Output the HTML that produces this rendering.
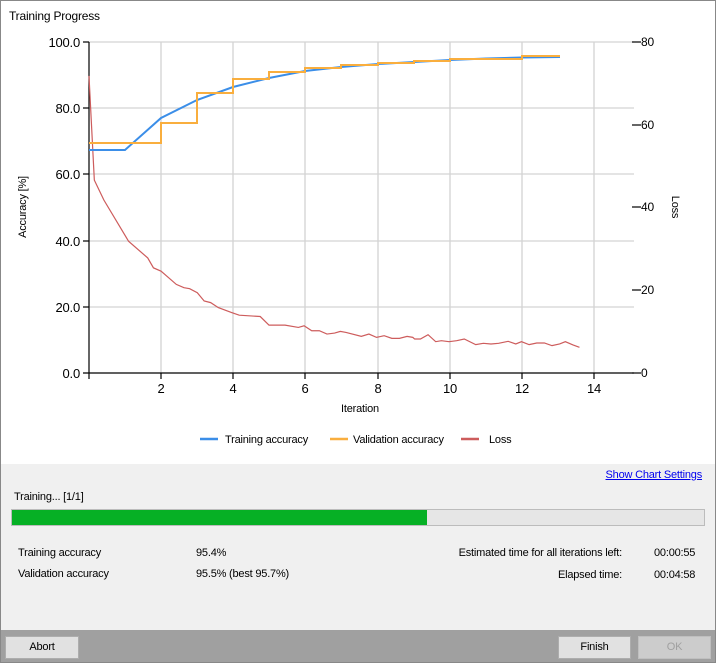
<!DOCTYPE html>
<html><head><style>
body{margin:0;width:716px;height:663px;overflow:hidden;font-family:"Liberation Sans",Arial,sans-serif;font-size:11px;letter-spacing:-0.2px;color:#000;background:#fff;position:relative}
.a{position:absolute;white-space:nowrap}
svg text{letter-spacing:-0.2px}
</style></head><body>
<div class="a" style="left:0;top:0;width:714px;height:661px;border:1px solid #888"></div>
<div class="a" style="left:9px;top:9px;font-size:12px">Training Progress</div>
<svg class="a" style="left:0;top:0" width="716" height="464">
<g stroke="#d3d3d3" stroke-width="1.3">
<line x1="89" y1="42" x2="634" y2="42"/><line x1="89" y1="108" x2="634" y2="108"/><line x1="89" y1="174" x2="634" y2="174"/><line x1="89" y1="241" x2="634" y2="241"/><line x1="89" y1="307" x2="634" y2="307"/>
<line x1="161" y1="42" x2="161" y2="373"/><line x1="233" y1="42" x2="233" y2="373"/><line x1="305" y1="42" x2="305" y2="373"/><line x1="378" y1="42" x2="378" y2="373"/><line x1="450" y1="42" x2="450" y2="373"/><line x1="522" y1="42" x2="522" y2="373"/><line x1="594" y1="42" x2="594" y2="373"/>
</g>
<g stroke="#000" stroke-width="1.2">
<line x1="89" y1="42" x2="89" y2="379"/><line x1="83" y1="373" x2="634" y2="373"/>
<line x1="83" y1="42" x2="89" y2="42"/><line x1="83" y1="108" x2="89" y2="108"/><line x1="83" y1="174" x2="89" y2="174"/><line x1="83" y1="241" x2="89" y2="241"/><line x1="83" y1="307" x2="89" y2="307"/>
<line x1="161" y1="373" x2="161" y2="379"/><line x1="233" y1="373" x2="233" y2="379"/><line x1="305" y1="373" x2="305" y2="379"/><line x1="378" y1="373" x2="378" y2="379"/><line x1="450" y1="373" x2="450" y2="379"/><line x1="522" y1="373" x2="522" y2="379"/><line x1="594" y1="373" x2="594" y2="379"/>
<line x1="632" y1="42" x2="641" y2="42"/><line x1="632" y1="125" x2="641" y2="125"/><line x1="632" y1="207" x2="641" y2="207"/><line x1="632" y1="290" x2="641" y2="290"/><line x1="632" y1="373" x2="641" y2="373"/>
</g>
<g font-family="Liberation Sans,Arial,sans-serif" font-size="13" text-anchor="end">
<text x="80" y="47">100.0</text><text x="80" y="113">80.0</text><text x="80" y="179">60.0</text><text x="80" y="246">40.0</text><text x="80" y="312">20.0</text><text x="80" y="378">0.0</text>
</g>
<g font-family="Liberation Sans,Arial,sans-serif" font-size="13" text-anchor="middle">
<text x="161" y="393">2</text><text x="233" y="393">4</text><text x="305" y="393">6</text><text x="378" y="393">8</text><text x="450" y="393">10</text><text x="522" y="393">12</text><text x="594" y="393">14</text>
</g>
<g font-family="Liberation Sans,Arial,sans-serif" font-size="12">
<text x="641" y="46">80</text><text x="641" y="129">60</text><text x="641" y="211">40</text><text x="641" y="294">20</text><text x="641" y="377">0</text>
</g>
<g font-family="Liberation Sans,Arial,sans-serif" font-size="11">
<text x="360" y="412" text-anchor="middle">Iteration</text>
<text transform="translate(26,207) rotate(-90)" text-anchor="middle">Accuracy [%]</text>
<text transform="translate(672,207) rotate(90)" text-anchor="middle">Loss</text>
</g>
<g transform="translate(60,200) scale(0.3814,0.331)">
<polyline fill="none" stroke="#cd5c5c" stroke-width="1.2" vector-effect="non-scaling-stroke" points="76,-375 90,-60 115,0 180,125 230,175 245,205 265,215 305,255 325,265 340,268 360,280 378,305 395,310 415,325 450,340 470,348 525,352 548,378 590,378 625,385 640,380 660,395 680,395 700,405 720,402 735,397 750,400 790,412 810,405 830,415 850,410 870,418 890,418 910,412 925,415 930,420 945,420 965,407 985,428 1000,425 1020,428 1040,425 1060,420 1090,437 1110,433 1130,435 1150,433 1175,427 1195,435 1210,428 1230,437 1250,432 1270,432 1290,440 1310,435 1325,428 1345,438 1362,445"/>
</g>
<polyline fill="none" stroke="#3b8ee8" stroke-width="2" points="89,150 125,150 161,118 197,100 233,87 269,78 305,71 341,67 378,64 414,62 450,60 486,58.5 522,57.5 560,57"/>
<polyline fill="none" stroke="#f9ae3e" stroke-width="2" points="89,143 161,143 161,123 197,123 197,93 233,93 233,79 269,79 269,72 305,72 305,68 341,68 341,65 378,65 378,63 414,63 414,61 450,61 450,59 522,59 522,57.5 522,56 560,56"/>
<line x1="200" y1="439" x2="218" y2="439" stroke="#3b8ee8" stroke-width="2.5"/>
<line x1="330" y1="439" x2="348" y2="439" stroke="#f9ae3e" stroke-width="2.5"/>
<line x1="461" y1="439" x2="479" y2="439" stroke="#cd5c5c" stroke-width="2.5"/>
<g font-family="Liberation Sans,Arial,sans-serif" font-size="11">
<text x="225" y="443">Training accuracy</text><text x="353" y="443">Validation accuracy</text><text x="489" y="443">Loss</text>
</g>
</svg>
<div class="a" style="left:1px;top:464px;width:714px;height:166px;background:#f0f0f0"></div>
<div class="a" style="right:14px;top:469px;color:#0000ee;text-decoration:underline">Show Chart Settings</div>
<div class="a" style="left:14px;top:491px">Training... [1/1]</div>
<div class="a" style="left:11px;top:509px;width:692px;height:15px;background:#e6e6e6;border:1px solid #bcbcbc"></div>
<div class="a" style="left:12px;top:510px;width:415px;height:15px;background:#06b025"></div>
<div class="a" style="left:18px;top:547px">Training accuracy</div>
<div class="a" style="left:196px;top:547px">95.4%</div>
<div class="a" style="left:18px;top:568px">Validation accuracy</div>
<div class="a" style="left:196px;top:568px">95.5% (best 95.7%)</div>
<div class="a" style="right:94px;top:547px">Estimated time for all iterations left:</div>
<div class="a" style="left:654px;top:547px">00:00:55</div>
<div class="a" style="right:94px;top:569px">Elapsed time:</div>
<div class="a" style="left:654px;top:569px">00:04:58</div>
<div class="a" style="left:1px;top:630px;width:714px;height:32px;background:#a0a0a0"></div>
<div class="a" style="left:5px;top:636px;width:72px;height:21px;background:#e1e1e1;border:1px solid #adadad;text-align:center;line-height:21px">Abort</div>
<div class="a" style="left:558px;top:636px;width:71px;height:21px;background:#e1e1e1;border:1px solid #adadad;text-align:center;line-height:21px">Finish</div>
<div class="a" style="left:638px;top:636px;width:71px;height:21px;background:#cccccc;border:1px solid #bfbfbf;color:#a0a0a0;text-align:center;line-height:21px">OK</div>
</body></html>
